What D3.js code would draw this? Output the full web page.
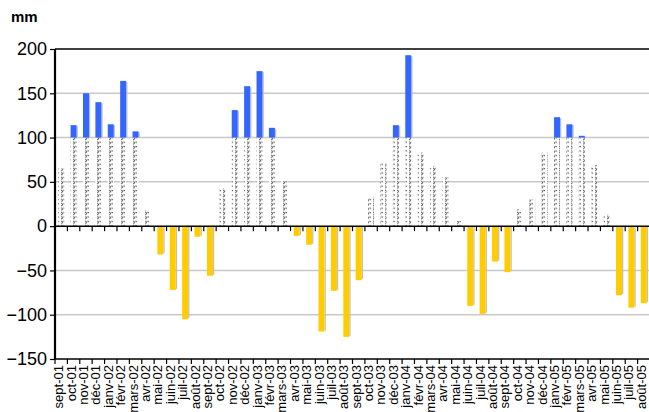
<!DOCTYPE html>
<html>
  <head>
    <meta charset="UTF-8" />
    <style>
      body { margin: 0; background: #fff; }
      svg { display: block; font-family: 'Liberation Sans', Arial, sans-serif; }
    </style>
  </head>
  <body>
    <svg></svg>

    <script src="https://d3js.org/d3.v7.min.js"></script>
    <script>
      let width = 649,
        height = 412

      // monthly balance, sept-01 .. août-05
      let months = [
        'sept-01', 'oct-01', 'nov-01', 'déc-01', 'janv-02', 'févr-02', 'mars-02', 'avr-02',
        'mai-02', 'juin-02', 'juil-02', 'août-02', 'sept-02', 'oct-02', 'nov-02', 'déc-02',
        'janv-03', 'févr-03', 'mars-03', 'avr-03', 'mai-03', 'juin-03', 'juil-03', 'août-03',
        'sept-03', 'oct-03', 'nov-03', 'déc-03', 'janv-04', 'févr-04', 'mars-04', 'avr-04',
        'mai-04', 'juin-04', 'juil-04', 'août-04', 'sept-04', 'oct-04', 'nov-04', 'déc-04',
        'janv-05', 'févr-05', 'mars-05', 'avr-05', 'mai-05', 'juin-05', 'juil-05', 'août-05',
      ]
      // soil reserve (hatched), capped at 100
      let reserve = [
        65, 100, 100, 100, 100, 100, 100, 18,
        0, 0, 0, 0, 0, 43, 100, 100,
        100, 100, 51, 0, 0, 0, 0, 0,
        0, 33, 71, 100, 100, 83, 68, 55,
        6, 0, 0, 0, 0, 19, 30, 83,
        100, 100, 100, 69, 13, 0, 0, 0,
      ]
      // surplus above the reserve (blue)
      let surplus = [
        0, 14, 50, 40, 15, 64, 7, 0,
        0, 0, 0, 0, 0, 0, 31, 58,
        75, 11, 0, 0, 0, 0, 0, 0,
        0, 0, 0, 14, 93, 0, 0, 0,
        0, 0, 0, 0, 0, 0, 0, 0,
        23, 15, 2, 0, 0, 0, 0, 0,
      ]
      // deficit (yellow)
      let deficit = [
        0, 0, 0, 0, 0, 0, 0, 0,
        -32, -72, -105, -12, -56, 0, 0, 0,
        0, 0, 0, -11, -21, -119, -73, -125,
        -61, 0, 0, 0, 0, 0, 0, 0,
        0, -90, -99, -40, -52, 0, 0, 0,
        0, 0, 0, 0, 0, -78, -92, -87,
      ]
      let yTicks = [-150, -100, -50, 0, 50, 100, 150, 200]

      let svg = d3.select('svg').attr('width', width).attr('height', height)

      let plotL = 55,
        plotR = 650,
        plotT = 49,
        plotB = 359

      let x = d3.scaleBand().domain(months).range([plotL, plotR])
      let y = d3.scaleLinear().domain([-150, 200]).range([plotB, plotT])
      let barW = 6

      // hatch pattern (small grey chevrons)
      let pat = svg
        .append('defs')
        .append('pattern')
        .attr('id', 'hatch')
        .attr('patternUnits', 'userSpaceOnUse')
        .attr('width', 6)
        .attr('height', 4.4)
      pat.append('rect').attr('width', 6).attr('height', 4.4).attr('fill', '#fff')
      pat
        .append('path')
        .attr('d', 'M1.3,0.8 L2.7,2.2 L1.3,3.6 M3.5,0.8 L4.9,1.7')
        .attr('fill', 'none')
        .attr('stroke', '#555')
        .attr('stroke-width', 1)

      // gridlines
      svg
        .append('g')
        .selectAll('line')
        .data(yTicks.filter((d) => d != 0 && d != 200 && d != -150))
        .enter()
        .append('line')
        .attr('x1', plotL)
        .attr('x2', width)
        .attr('y1', (d) => y(d))
        .attr('y2', (d) => y(d))
        .attr('stroke', '#c8c8c8')
        .attr('stroke-width', 1.5)

      let bx = (i) => x(months[i]) + x.bandwidth() / 2 - barW / 2

      // hatched reserve bars
      svg
        .append('g')
        .selectAll('rect')
        .data(reserve.map((v, i) => ({ v, i })).filter((d) => d.v > 0))
        .enter()
        .append('rect')
        .attr('x', (d) => bx(d.i))
        .attr('width', barW)
        .attr('y', (d) => y(d.v))
        .attr('height', (d) => y(0) - y(d.v))
        .attr('fill', 'url(#hatch)')

      // surplus bars (stacked on reserve)
      let sData = surplus.map((v, i) => ({ v, i })).filter((d) => d.v > 0)
      let sg = svg.append('g')
      sg.selectAll('.shadow')
        .data(sData)
        .enter()
        .append('rect')
        .attr('x', (d) => bx(d.i) + barW)
        .attr('width', 1.3)
        .attr('y', (d) => y(reserve[d.i] + d.v) + 1)
        .attr('height', (d) => y(reserve[d.i]) - y(reserve[d.i] + d.v) - 1)
        .attr('fill', '#c0c0c0')
      sg.selectAll('.bar')
        .data(sData)
        .enter()
        .append('rect')
        .attr('x', (d) => bx(d.i))
        .attr('width', barW)
        .attr('y', (d) => y(reserve[d.i] + d.v))
        .attr('height', (d) => y(reserve[d.i]) - y(reserve[d.i] + d.v))
        .attr('fill', '#3366ff')

      // deficit bars
      let dData = deficit.map((v, i) => ({ v, i })).filter((d) => d.v < 0)
      let dg = svg.append('g')
      dg.selectAll('.shadow')
        .data(dData)
        .enter()
        .append('rect')
        .attr('x', (d) => bx(d.i) + barW)
        .attr('width', 1.3)
        .attr('y', y(0))
        .attr('height', (d) => y(d.v) - y(0) - 1)
        .attr('fill', '#c0c0c0')
      dg.selectAll('.bar')
        .data(dData)
        .enter()
        .append('rect')
        .attr('x', (d) => bx(d.i))
        .attr('width', barW)
        .attr('y', y(0))
        .attr('height', (d) => y(d.v) - y(0))
        .attr('fill', '#ffcc00')

      // top frame line
      svg
        .append('line')
        .attr('x1', plotL)
        .attr('x2', width)
        .attr('y1', plotT)
        .attr('y2', plotT)
        .attr('stroke', '#000')
        .attr('stroke-width', 1.5)

      // zero line and bottom line with category ticks
      ;[0, -150].forEach((v) => {
        svg
          .append('line')
          .attr('x1', plotL)
          .attr('x2', width)
          .attr('y1', y(v))
          .attr('y2', y(v))
          .attr('stroke', '#000')
          .attr('stroke-width', 1.5)
        svg
          .append('g')
          .selectAll('line')
          .data(months)
          .enter()
          .append('line')
          .attr('x1', (d) => x(d))
          .attr('x2', (d) => x(d))
          .attr('y1', y(v))
          .attr('y2', y(v) + 5)
          .attr('stroke', '#000')
          .attr('stroke-width', 1.2)
      })

      // x labels
      svg
        .append('g')
        .selectAll('text')
        .data(months)
        .enter()
        .append('text')
        .attr(
          'transform',
          (d) => 'translate(' + (x(d) + x.bandwidth() / 2 + 2) + ',' + (plotB + 6) + ') rotate(-90)'
        )
        .attr('text-anchor', 'end')
        .attr('font-size', 13)
        .attr('fill', '#000')
        .text((d) => d)

      // y axis
      let yAxis = svg
        .append('g')
        .attr('transform', 'translate(' + plotL + ',0)')
        .call(d3.axisLeft(y).tickValues(yTicks).tickSize(5).tickPadding(3).tickFormat(d3.format('d')))
      yAxis.select('.domain').attr('stroke-width', 2.2).attr('d', 'M0,' + plotT + 'V' + plotB)
      yAxis.selectAll('.tick line').attr('stroke-width', 1.2)
      yAxis
        .selectAll('.tick text')
        .attr('font-size', 18)
        .attr('font-family', "'Liberation Sans', Arial, sans-serif")
        .attr('fill', '#000')

      svg
        .append('text')
        .attr('x', 11)
        .attr('y', 22)
        .attr('font-size', 15)
        .attr('font-weight', 'bold')
        .text('mm')
    </script>
  </body>
</html>
